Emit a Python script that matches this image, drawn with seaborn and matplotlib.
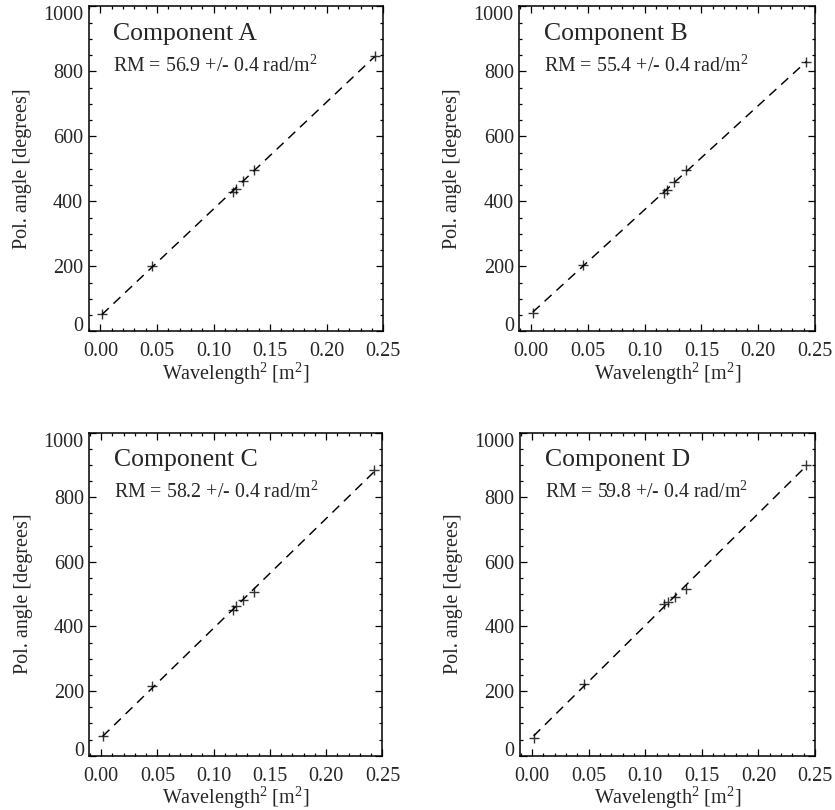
import numpy as np
import pandas as pd
import seaborn as sns
import matplotlib
matplotlib.use("Agg")
import matplotlib.pyplot as plt
from matplotlib.ticker import MultipleLocator

# ---- data ----
wavelength_sq = [0.0013, 0.0455, 0.117, 0.120, 0.126, 0.136, 0.2425]
angle_A = [52, 200, 428, 438, 462, 498, 848]
angle_B = [55, 204, 426, 436, 459, 498, 828]
angle_C = [60, 217, 452, 463, 481, 506, 884]
angle_D = [56, 222, 470, 475, 490, 516, 899]
components = ["Component A", "Component B", "Component C", "Component D"]
rm_values = ["56.9", "55.4", "58.2", "59.8"]
rm_errors = ["0.4", "0.4", "0.4", "0.4"]
x_ticks = [0.00, 0.05, 0.10, 0.15, 0.20, 0.25]
y_ticks = [0, 200, 400, 600, 800, 1000]
angles = [angle_A, angle_B, angle_C, angle_D]

sns.set_theme(style="ticks")
plt.rcParams["font.family"] = ["Liberation Serif", "DejaVu Serif"]
plt.rcParams["mathtext.fontset"] = "custom"
plt.rcParams["mathtext.rm"] = "Liberation Serif"
plt.rcParams["mathtext.it"] = "Liberation Serif:italic"
plt.rcParams["axes.linewidth"] = 1.1
plt.rcParams["axes.edgecolor"] = "black"

fig = plt.figure(figsize=(8.35, 8.10), dpi=100)
positions = [
    [0.106, 0.591, 0.353, 0.401],
    [0.622, 0.591, 0.354, 0.401],
    [0.107, 0.067, 0.351, 0.399],
    [0.623, 0.067, 0.353, 0.399],
]

for pos, name, rm, err, yv in zip(positions, components, rm_values, rm_errors, angles):
    ax = fig.add_axes(pos)
    df = pd.DataFrame({"x": wavelength_sq, "y": yv})
    sns.regplot(
        data=df, x="x", y="y", ax=ax, ci=None, marker="+", color="black",
        scatter_kws=dict(s=60, linewidths=1.0, color="black"),
        line_kws=dict(color="black", lw=1.05, dashes=(6.5, 4.5)),
    )
    ax.set_xlim(-0.0105, 0.25)
    ax.set_ylim(0, 1000)
    ax.set_xticks(x_ticks)
    ax.set_xticklabels([f"{t:.2f}" for t in x_ticks])
    ax.set_yticks(y_ticks)
    ax.set_yticklabels([str(t) for t in y_ticks])
    ylabels = ax.get_yticklabels()
    ylabels[0].set_va("baseline")
    ylabels[-1].set_va("top")
    ax.xaxis.set_minor_locator(MultipleLocator(0.01))
    ax.yaxis.set_minor_locator(MultipleLocator(50))
    ax.tick_params(which="both", direction="in", top=True, right=True,
                   color="black", width=0.9)
    ax.tick_params(which="major", length=4.8, labelsize=14.5)
    ax.tick_params(axis="x", which="major", pad=8)
    ax.tick_params(axis="y", which="major", pad=4)
    ax.tick_params(which="minor", length=2.4)
    for s in ax.spines.values():
        s.set_visible(True)
        s.set_color("black")
    ax.set_xlabel(r"Wavelength$^2$ [m$^2$]", fontsize=14.5)
    ax.set_ylabel("Pol. angle [degrees]", fontsize=14.5)
    ax.xaxis.set_label_coords(0.5, -0.09)
    ax.yaxis.set_label_coords(-0.193, 0.5)
    ax.text(0.084, 0.898, name, transform=ax.transAxes, fontsize=18.5,
            ha="left", va="baseline")
    ax.text(0.084, 0.798, rf"RM = {rm} +/- {err} rad/m$^2$",
            transform=ax.transAxes, fontsize=14.3, ha="left", va="baseline")

fig.savefig("out.png", dpi=100, facecolor="white")
